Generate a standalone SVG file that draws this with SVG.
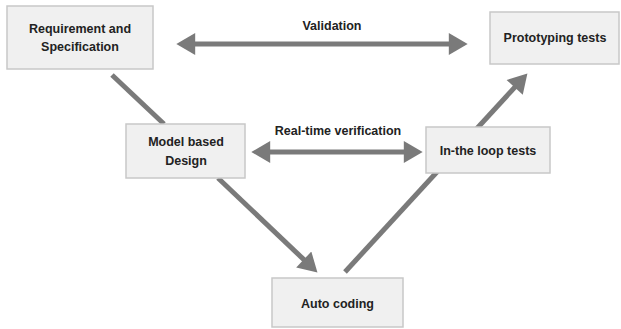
<svg xmlns="http://www.w3.org/2000/svg" width="621" height="329" viewBox="0 0 621 329">
<style>
.box{fill:#f0f0f0;stroke:#c8c8c8;stroke-width:1.5}
.lbl{font-family:"Liberation Sans",Arial,sans-serif;font-size:12.5px;font-weight:bold;fill:#222;text-anchor:middle}
.conn{stroke:#7a7a7a;stroke-width:5;fill:none}
</style>
<defs>
<marker id="ah" markerUnits="userSpaceOnUse" markerWidth="20" markerHeight="22" viewBox="0 0 18 21" refX="4" refY="10.5" orient="auto-start-reverse">
<path d="M0,0 L18,10.5 L0,21 Z" fill="#7a7a7a"/>
</marker>
</defs>
<rect width="621" height="329" fill="#ffffff"/>
<g id="connectors">
<line class="conn" x1="191" y1="44" x2="453" y2="44" marker-start="url(#ah)" marker-end="url(#ah)"/>
<line class="conn" x1="266" y1="152" x2="408" y2="152" marker-start="url(#ah)" marker-end="url(#ah)"/>
<line class="conn" stroke-width="4.5" x1="112" y1="75" x2="164" y2="124"/>
<line class="conn" x1="218" y1="178" x2="306.8" y2="262.4" marker-end="url(#ah)"/>
<line class="conn" x1="345" y1="272" x2="517.5" y2="84.3" marker-end="url(#ah)"/>
</g>
<g id="label-validation"><text class="lbl" x="332" y="30">Validation</text></g>
<g id="label-realtime"><text class="lbl" x="338" y="135">Real-time verification</text></g>
<g id="req">
<rect class="box" x="7" y="6" width="146" height="63"/>
<text class="lbl" x="80" y="33">Requirement and</text>
<text class="lbl" x="80" y="51">Specification</text>
</g>
<g id="proto">
<rect class="box" x="490" y="12" width="129" height="52"/>
<text class="lbl" x="555" y="42">Prototyping tests</text>
</g>
<g id="mbd">
<rect class="box" x="126" y="124" width="119" height="54"/>
<text class="lbl" x="186" y="146">Model based</text>
<text class="lbl" x="186" y="165">Design</text>
</g>
<g id="loop">
<rect class="box" x="426" y="127" width="124" height="46"/>
<text class="lbl" x="488" y="155">In-the loop tests</text>
</g>
<g id="auto">
<rect class="box" x="272" y="278" width="131" height="49"/>
<text class="lbl" x="337.5" y="308">Auto coding</text>
</g>
</svg>
